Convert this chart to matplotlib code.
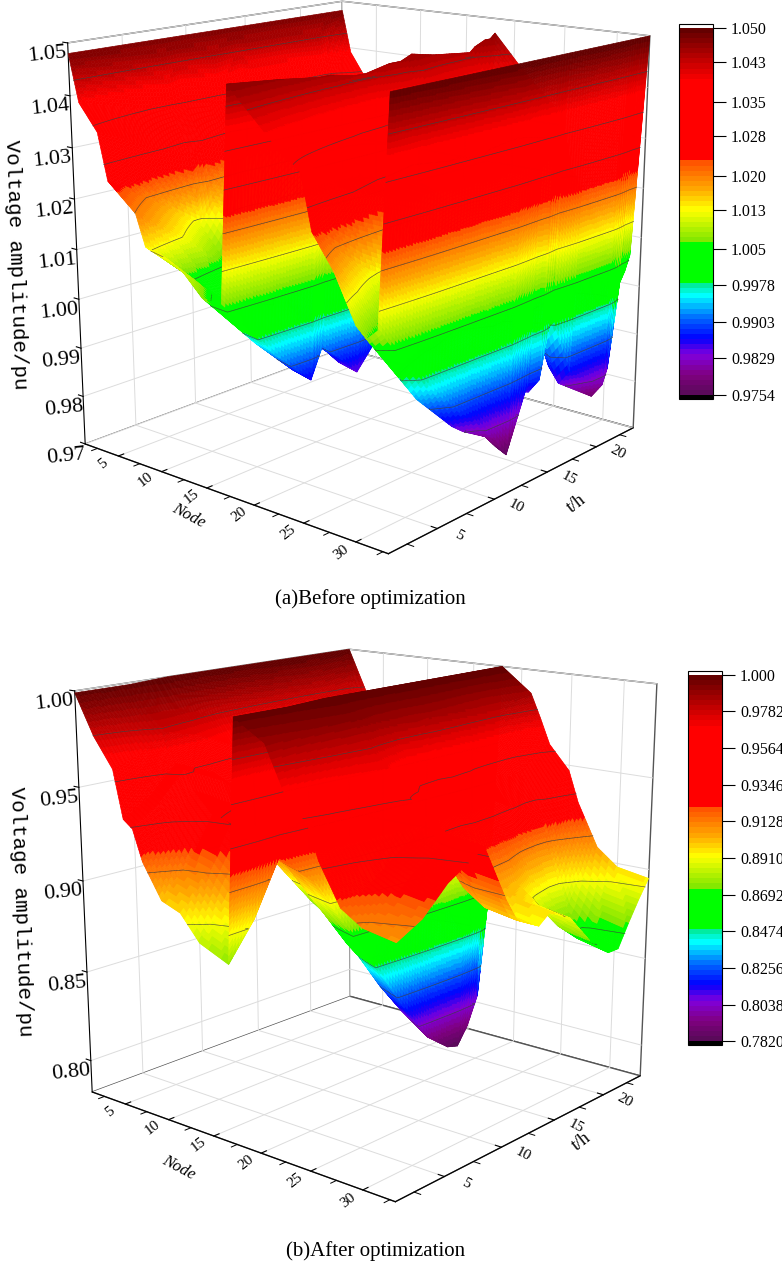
import numpy as np
import matplotlib
matplotlib.use("Agg")
import matplotlib.pyplot as plt
from matplotlib.colors import LinearSegmentedColormap, Normalize
from matplotlib.cm import ScalarMappable
from mpl_toolkits.mplot3d.art3d import Poly3DCollection
from mpl_toolkits.mplot3d import proj3d
import contourpy

W, H = 782, 1264
plt.rcParams['font.family'] = ['Liberation Serif', 'DejaVu Serif']
plt.rcParams['grid.color'] = '#dcdcdc'
plt.rcParams['grid.linewidth'] = 0.7

# voltages, one row per hour, one column per node
nodes_a = [1, 2, 4, 5, 8, 9, 11, 13, 15, 17, 18, 21, 23, 25, 26, 27, 28, 30, 31, 32, 33]
hours_a = [1, 5, 8, 9, 11, 12, 14, 15, 16, 18, 21.5, 22, 23, 23.5, 24]
volt_a = [
    [1.048, 1.039, 1.034, 1.025, 1.020, 1.014, 1.013, 1.011, 1.007, 1.0065, 1.047, 1.041, 1.037, 1.034, 1.024, 1.021, 1.018, 1.0095, 1.0075, 1.0095, 1.050],
    [1.048, 1.036, 1.029, 1.018, 1.012, 1.004, 1.002, 1.000, 0.995, 0.994, 1.046, 1.038, 1.033, 1.028, 1.015, 1.011, 1.007, 0.996, 0.993, 0.996, 1.050],
    [1.048, 1.034, 1.026, 1.012, 1.005, 0.996, 0.994, 0.991, 0.987, 0.986, 1.045, 1.036, 1.030, 1.025, 1.010, 1.005, 1.000, 0.988, 0.985, 0.988, 1.050],
    [1.048, 1.035, 1.028, 1.016, 1.009, 1.001, 0.999, 0.996, 0.993, 0.992, 1.045, 1.035, 1.030, 1.024, 1.009, 1.004, 0.999, 0.986, 0.983, 0.986, 1.050],
    [1.048, 1.034, 1.026, 1.013, 1.006, 0.997, 0.995, 0.992, 0.988, 0.987, 1.044, 1.034, 1.028, 1.022, 1.005, 1.000, 0.994, 0.982, 0.980, 0.980, 1.050],
    [1.048, 1.033, 1.025, 1.011, 1.004, 0.994, 0.992, 0.989, 0.985, 0.984, 1.044, 1.033, 1.027, 1.020, 1.003, 0.997, 0.991, 0.979, 0.977, 0.976, 1.050],
    [1.048, 1.035, 1.027, 1.014, 1.008, 0.999, 0.997, 0.994, 0.991, 0.990, 1.045, 1.036, 1.031, 1.025, 1.011, 1.006, 1.001, 0.989, 0.986, 0.989, 1.050],
    [1.048, 1.034, 1.026, 1.013, 1.007, 0.998, 0.996, 0.992, 0.989, 0.988, 1.045, 1.036, 1.030, 1.025, 1.010, 1.005, 1.000, 0.988, 0.985, 0.988, 1.050],
    [1.048, 1.034, 1.026, 1.013, 1.006, 0.997, 0.995, 0.992, 0.988, 0.987, 1.046, 1.038, 1.033, 1.028, 1.015, 1.011, 1.007, 1.000, 0.997, 1.000, 1.050],
    [1.048, 1.034, 1.026, 1.012, 1.005, 0.996, 0.994, 0.991, 0.987, 0.986, 1.045, 1.036, 1.030, 1.025, 1.010, 1.005, 1.000, 0.987, 0.984, 0.987, 1.050],
    [1.048, 1.033, 1.025, 1.011, 1.004, 0.994, 0.992, 0.989, 0.985, 0.984, 1.044, 1.034, 1.028, 1.022, 1.006, 1.000, 0.995, 0.981, 0.978, 0.981, 1.050],
    [1.048, 1.034, 1.026, 1.012, 1.005, 0.996, 0.994, 0.991, 0.987, 0.986, 1.045, 1.035, 1.029, 1.023, 1.008, 1.003, 0.997, 0.984, 0.981, 0.984, 1.050],
    [1.048, 1.037, 1.031, 1.020, 1.015, 1.007, 1.006, 1.003, 0.999, 0.998, 1.046, 1.039, 1.034, 1.030, 1.019, 1.015, 1.011, 1.001, 0.999, 1.001, 1.050],
    [1.048, 1.038, 1.032, 1.022, 1.017, 1.011, 1.009, 1.007, 1.003, 1.002, 1.046, 1.039, 1.035, 1.031, 1.020, 1.016, 1.012, 1.003, 1.001, 1.003, 1.050],
    [1.048, 1.039, 1.033, 1.024, 1.019, 1.013, 1.012, 1.010, 1.006, 1.005, 1.047, 1.040, 1.036, 1.032, 1.022, 1.018, 1.015, 1.006, 1.004, 1.006, 1.050],
]

# voltages
nodes_b = [1, 3, 5, 6, 7, 8, 10, 12, 14, 17, 18, 21, 22, 23, 25, 26, 28, 30, 33]
hours_b = [1, 3, 5, 8, 10, 11, 13, 14, 16, 18, 20, 21, 22, 23, 24]
volt_b = [
    [0.999, 0.978, 0.963, 0.938, 0.934, 0.918, 0.900, 0.896, 0.883, 0.876, 0.999, 0.989, 0.977, 0.965, 0.954, 0.938, 0.918, 0.911, 0.908],
    [0.999, 0.981, 0.968, 0.947, 0.944, 0.931, 0.915, 0.912, 0.901, 0.895, 0.999, 0.990, 0.979, 0.968, 0.957, 0.943, 0.924, 0.918, 0.915],
    [0.999, 0.986, 0.977, 0.961, 0.959, 0.949, 0.938, 0.935, 0.928, 0.923, 0.999, 0.991, 0.981, 0.971, 0.962, 0.950, 0.934, 0.930, 0.928],
    [1.000, 0.983, 0.971, 0.952, 0.949, 0.937, 0.922, 0.919, 0.910, 0.904, 1.000, 0.992, 0.982, 0.974, 0.967, 0.958, 0.948, 0.942, 0.940],
    [1.000, 0.979, 0.964, 0.940, 0.937, 0.921, 0.904, 0.900, 0.888, 0.881, 1.000, 0.989, 0.977, 0.966, 0.955, 0.940, 0.920, 0.913, 0.910],
    [1.000, 0.977, 0.961, 0.935, 0.931, 0.914, 0.895, 0.891, 0.878, 0.870, 1.000, 0.988, 0.974, 0.961, 0.949, 0.932, 0.909, 0.901, 0.898],
    [1.000, 0.973, 0.954, 0.924, 0.919, 0.900, 0.877, 0.872, 0.857, 0.848, 1.000, 0.987, 0.973, 0.959, 0.945, 0.927, 0.903, 0.894, 0.891],
    [1.000, 0.971, 0.951, 0.919, 0.914, 0.893, 0.869, 0.864, 0.848, 0.838, 1.000, 0.988, 0.974, 0.960, 0.948, 0.930, 0.907, 0.899, 0.896],
    [1.000, 0.967, 0.944, 0.907, 0.902, 0.878, 0.850, 0.845, 0.826, 0.815, 1.000, 0.987, 0.972, 0.958, 0.944, 0.926, 0.901, 0.892, 0.889],
    [1.000, 0.963, 0.938, 0.897, 0.891, 0.865, 0.834, 0.828, 0.807, 0.795, 1.000, 0.985, 0.968, 0.952, 0.936, 0.915, 0.887, 0.877, 0.873],
    [1.000, 0.961, 0.935, 0.892, 0.886, 0.857, 0.825, 0.819, 0.797, 0.784, 1.000, 0.983, 0.965, 0.948, 0.931, 0.908, 0.877, 0.866, 0.862],
    [1.000, 0.961, 0.935, 0.891, 0.884, 0.856, 0.823, 0.817, 0.795, 0.782, 1.000, 0.983, 0.965, 0.948, 0.931, 0.908, 0.877, 0.866, 0.862],
    [1.000, 0.963, 0.938, 0.896, 0.890, 0.863, 0.832, 0.825, 0.804, 0.792, 1.000, 0.985, 0.968, 0.952, 0.937, 0.916, 0.888, 0.878, 0.874],
    [1.000, 0.965, 0.942, 0.904, 0.898, 0.873, 0.844, 0.839, 0.820, 0.808, 1.000, 0.986, 0.971, 0.956, 0.942, 0.923, 0.898, 0.888, 0.885],
    [1.000, 0.976, 0.960, 0.933, 0.929, 0.912, 0.891, 0.887, 0.874, 0.866, 1.000, 0.987, 0.974, 0.960, 0.947, 0.930, 0.907, 0.898, 0.895],
]

ticks_a = [1.050, 1.043, 1.035, 1.028, 1.020, 1.013, 1.005, 0.9978, 0.9903, 0.9829, 0.9754]
ticklabels_a = ['1.050', '1.043', '1.035', '1.028', '1.020', '1.013', '1.005', '0.9978', '0.9903', '0.9829', '0.9754']
ticks_b = [1.000, 0.9782, 0.9564, 0.9346, 0.9128, 0.8910, 0.8692, 0.8474, 0.8256, 0.8038, 0.7820]
ticklabels_b = ['1.000', '0.9782', '0.9564', '0.9346', '0.9128', '0.8910', '0.8692', '0.8474', '0.8256', '0.8038', '0.7820']
zticks_a = [0.97, 0.98, 0.99, 1.00, 1.01, 1.02, 1.03, 1.04, 1.05]
zticks_b = [0.80, 0.85, 0.90, 0.95, 1.00]
node_ticks = [5, 10, 15, 20, 25, 30]
node_minor = [2.5, 7.5, 12.5, 17.5, 22.5, 27.5, 32.5]
hour_ticks = [5, 10, 15, 20]
hour_minor = [2.5, 7.5, 12.5, 17.5, 22.5]

ELEV, AZIM = 15.2, -49.6
FOCAL = 0.47
BOX = (1, 1, 1.025)

# colour ramp as sampled from the colour bar
ramp = [(0.00, '#5a0a5a'), (0.05, '#800080'), (0.105, '#8000dc'), (0.15, '#0000ff'),
        (0.205, '#0064ff'), (0.268, '#00ffff'), (0.305, '#00e682'), (0.309, '#00ff00'),
        (0.41, '#00ff00'), (0.414, '#78e600'), (0.505, '#ffff00'), (0.56, '#ffaa00'),
        (0.638, '#ff5000'), (0.642, '#ff0000'), (0.86, '#ff0000'), (1.00, '#640000')]
cmap = LinearSegmentedColormap.from_list('origin', ramp, N=72)
cmap.set_over('white')
cmap.set_under('black')


def px_rect(x0, y0, x1, y1):
    return [x0 / W, 1 - y1 / H, (x1 - x0) / W, (y1 - y0) / H]


def fine_axis(knots, step, jumps):
    # finer steps across the voltage jumps so the colour bands stay thin there
    out = []
    for a, b in zip(knots[:-1], knots[1:]):
        n = 240 if (a, b) in jumps else max(2, int(round((b - a) / step)))
        out.extend(np.linspace(a, b, n, endpoint=False))
    out.append(knots[-1])
    return np.array(out)


def draw_surface(ax, nodes, hours, volt, levels, vmin, vmax, jumps):
    volt = np.array(volt)
    xf = fine_axis(nodes, 0.0625, jumps)
    yf = fine_axis(hours, 0.25, [])
    # subdivide the read-off grid for drawing, colour comes per facet
    rows = np.array([np.interp(xf, nodes, r) for r in volt])
    zf = np.array([np.interp(yf, hours, c) for c in rows.T]).T
    xg, yg = np.meshgrid(xf, yf)
    quads = np.stack([
        np.stack([xg[:-1, :-1], yg[:-1, :-1], zf[:-1, :-1]], -1),
        np.stack([xg[:-1, 1:], yg[:-1, 1:], zf[:-1, 1:]], -1),
        np.stack([xg[1:, 1:], yg[1:, 1:], zf[1:, 1:]], -1),
        np.stack([xg[1:, :-1], yg[1:, :-1], zf[1:, :-1]], -1)], axis=2).reshape(-1, 4, 3)
    norm = Normalize(vmin, vmax)
    colors = cmap(norm(quads[:, :, 2].mean(axis=1)))

    # contour pieces go into the same collection, so the depth sort hides them properly
    e, a = np.radians(ELEV), np.radians(AZIM)
    nudge = 0.015 * np.array([np.cos(e) * np.cos(a) * (nodes[-1] - 1),
                              np.cos(e) * np.sin(a) * (hours[-1] - 1),
                              np.sin(e) * (vmax - vmin) / BOX[2]])
    gen = contourpy.contour_generator(xf, yf, zf)
    segs = []
    for lev in levels[1:-1]:
        for line in gen.lines(lev):
            pts = np.column_stack([line, np.full(len(line), lev)]) + nudge
            for p, q in zip(pts[:-1], pts[1:]):
                segs.append([p, q, q, p])
    segs = np.array(segs)
    verts = np.concatenate([quads, segs])
    face = np.concatenate([colors, np.zeros((len(segs), 4))])
    edge = np.concatenate([colors, np.tile([0.25, 0.25, 0.25, 1.0], (len(segs), 1))])
    ax.add_collection3d(Poly3DCollection(verts, facecolors=face, edgecolors=edge, linewidths=0.45))


def flat_label(ax, x, y, z, text, rot):
    # 3d text ignores rotation, so project the spot and write 2d text there
    x2, y2, _ = proj3d.proj_transform(x, y, z, ax.get_proj())
    ax.text2D(x2, y2, text, transform=ax.transData, fontsize=11, rotation=rot, ha='center', va='center')


def style_axes(ax, zlim, zticks, zfmt):
    ax.set_proj_type('persp', focal_length=FOCAL)
    ax.view_init(elev=ELEV, azim=AZIM)
    ax.set_xlim(1, 33, view_margin=0)
    ax.set_ylim(1, 24, view_margin=0)
    ax.set_zlim(zlim[0], zlim[1], view_margin=0)
    ax.patch.set_alpha(0)
    ax.set_xticks(node_ticks)
    ax.set_yticks(hour_ticks)
    ax.set_xticklabels([])
    ax.set_yticklabels([])
    ax.set_zticks(zticks)
    ax.set_zticklabels([zfmt % v for v in zticks])
    ax.zaxis._axinfo['juggled'] = (1, 2, 0)
    for axis in (ax.xaxis, ax.yaxis, ax.zaxis):
        axis.set_pane_color((1, 1, 1, 1))
        axis.pane.set_edgecolor('#555555')
        axis.line.set_color('black')
        axis._axinfo['tick']['inward_factor'] = 0.0
        axis._axinfo['tick']['outward_factor'] = 0.22
    ax.tick_params(axis='z', labelsize=16, pad=1, labelrotation=6)
    for n in node_minor:
        ax.plot([n, n], [1, 0.55], [zlim[0], zlim[0]], color='black', lw=0.7)
    for h in hour_minor:
        ax.plot([33, 33.6], [h, h], [zlim[0], zlim[0]], color='black', lw=0.7)
    # tick labels sit close to the axes here, closer than the tick pad gives
    for n in node_ticks:
        flat_label(ax, n + 0.3, -0.4, zlim[0], str(n), 38)
    for h in hour_ticks:
        flat_label(ax, 35, h, zlim[0], str(h), -28)


def colorbar(rect, levels, labels, vmin, vmax):
    cax = fig.add_axes(px_rect(*rect))
    cb = fig.colorbar(ScalarMappable(Normalize(vmin, vmax), cmap), cax=cax, extend='both',
                      extendrect=True, extendfrac=0.01, drawedges=False)
    cb.set_ticks(levels)
    cb.set_ticklabels(labels)
    cb.ax.tick_params(labelsize=11.5, length=9, width=0.8, pad=4)
    cb.outline.set_linewidth(0.8)


fig = plt.figure(figsize=(W / 100, H / 100), dpi=100)

ax1 = fig.add_axes(px_rect(3, -97, 703, 603), projection='3d')
ax1.set_box_aspect(BOX, zoom=0.97)
style_axes(ax1, (0.97, 1.05), zticks_a, '%.2f')
draw_surface(ax1, nodes_a, hours_a, volt_a, ticks_a, 0.9754, 1.05, [(17, 18), (32, 33)])
colorbar((679, 24, 713, 399), ticks_a, ticklabels_a, 0.9754, 1.05)

ax2 = fig.add_axes(px_rect(10, 551, 710, 1251), projection='3d')
ax2.set_box_aspect(BOX, zoom=0.97)
style_axes(ax2, (0.782, 1.0), zticks_b, '%.2f')
draw_surface(ax2, nodes_b, hours_b, volt_b, ticks_b, 0.782, 1.0, [(17, 18)])
colorbar((688, 671, 722, 1045), ticks_b, ticklabels_b, 0.782, 1.0)

fig.text(370 / W, 1 - 599 / H, '(a)Before optimization', fontsize=15, ha='center', va='center')
fig.text(376 / W, 1 - 1251 / H, '(b)After optimization', fontsize=15, ha='center', va='center')
fig.text(16 / W, 1 - 265 / H, 'Voltage amplitude/pu', fontsize=15, rotation=-88, ha='center', va='center', family='Liberation Mono')
fig.text(21 / W, 1 - 912 / H, 'Voltage amplitude/pu', fontsize=15, rotation=-88, ha='center', va='center', family='Liberation Mono')
fig.text(189 / W, 1 - 516 / H, 'Node', fontsize=12, rotation=-28, ha='center', va='center', style='italic')
fig.text(179 / W, 1 - 1168 / H, 'Node', fontsize=12, rotation=-28, ha='center', va='center', style='italic')
fig.text(577 / W, 1 - 504 / H, 't/h', fontsize=13, rotation=38, ha='center', va='center')
fig.text(582 / W, 1 - 1142 / H, 't/h', fontsize=13, rotation=38, ha='center', va='center')

fig.savefig('out.png', dpi=100)
